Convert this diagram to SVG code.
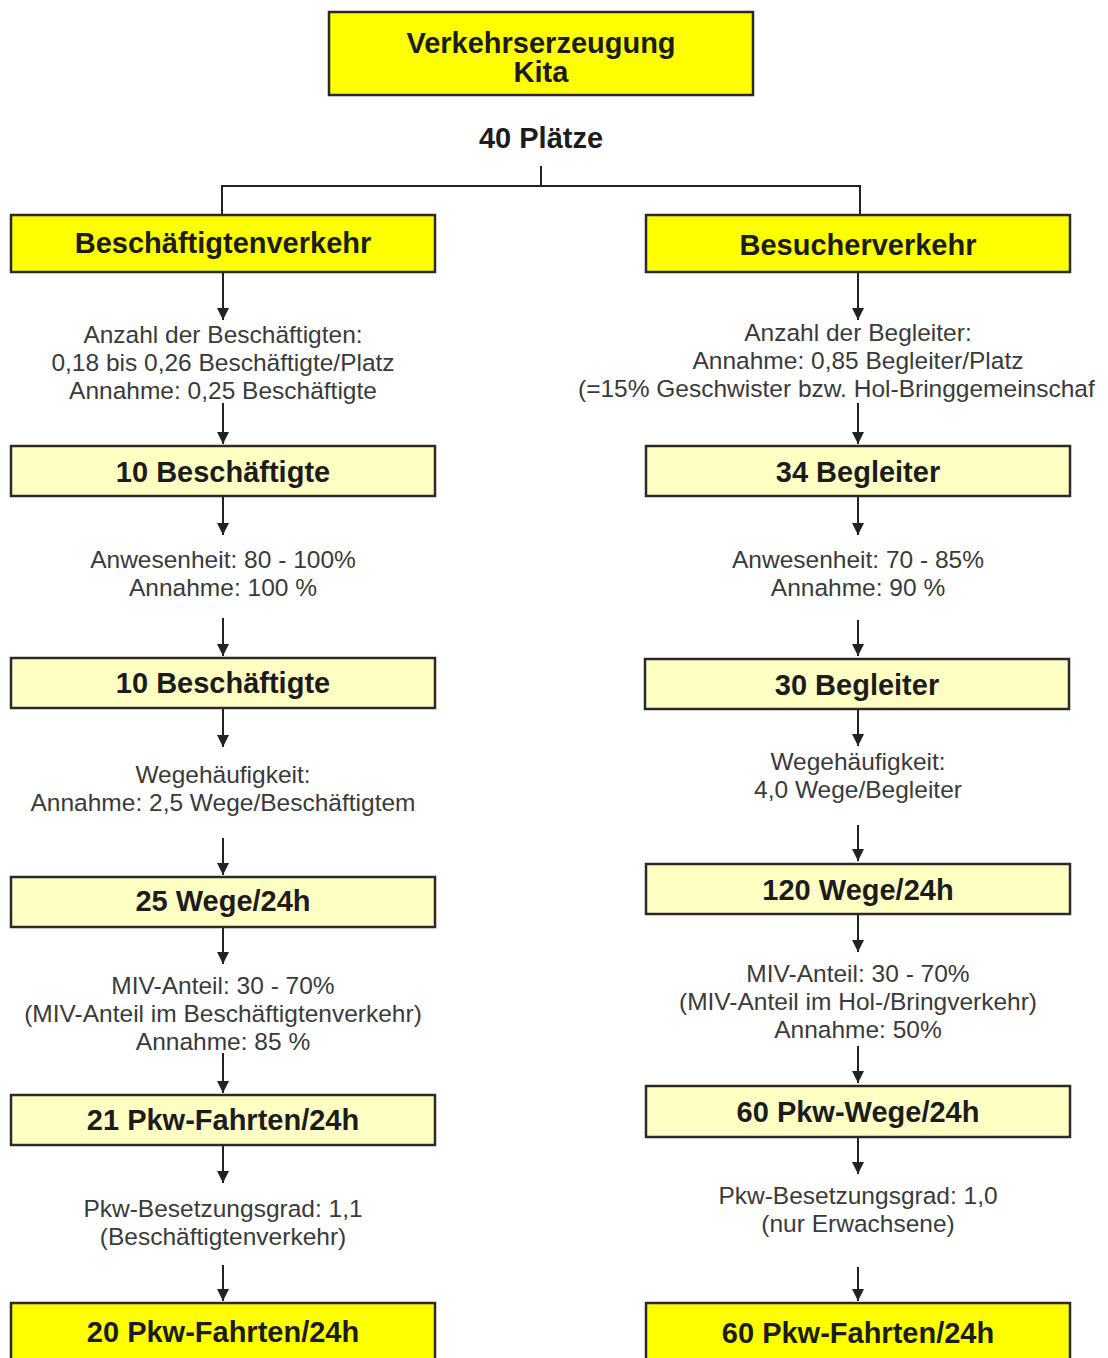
<svg xmlns="http://www.w3.org/2000/svg" width="1108" height="1358" viewBox="0 0 1108 1358">
<style>
.bg{fill:#ffffff}
.box{stroke:#2a2a2a;stroke-width:2.5}
.hi{fill:#ffff00}
.lo{fill:#ffffc4}
.bt{font-family:"Liberation Sans",Arial,sans-serif;font-weight:bold;font-size:29px;fill:#1c1c1c;text-anchor:middle}
.rt{font-family:"Liberation Sans",Arial,sans-serif;font-size:24.5px;fill:#3a3a3a;text-anchor:middle}
.ln{stroke:#222;stroke-width:2;fill:none}
.ar{stroke:#222;stroke-width:2;fill:none;marker-end:url(#ah)}
</style>
<defs>
<marker id="ah" markerUnits="userSpaceOnUse" markerWidth="12" markerHeight="12" refX="12" refY="6" orient="auto">
<path d="M0,0 L12,6 L0,12 z" fill="#222"/>
</marker>
</defs>
<rect class="bg" x="0" y="0" width="1108" height="1358"/>

<g id="connectors">
<path class="ln" d="M541,166 V186 M222,186 H860 M222,185 V215 M860,185 V215"/>
<path class="ar" d="M223,273 V320"/>
<path class="ar" d="M223,403 V444"/>
<path class="ar" d="M223,497 V535"/>
<path class="ar" d="M223,618 V656"/>
<path class="ar" d="M223,709 V747"/>
<path class="ar" d="M223,838 V875"/>
<path class="ar" d="M223,927 V964"/>
<path class="ar" d="M223,1053 V1093"/>
<path class="ar" d="M223,1146 V1183"/>
<path class="ar" d="M223,1265 V1301"/>
<path class="ar" d="M858,273 V320"/>
<path class="ar" d="M858,403 V444"/>
<path class="ar" d="M858,497 V535"/>
<path class="ar" d="M858,620 V656"/>
<path class="ar" d="M858,709 V746"/>
<path class="ar" d="M858,825 V861"/>
<path class="ar" d="M858,915 V952"/>
<path class="ar" d="M858,1046 V1083"/>
<path class="ar" d="M858,1138 V1174"/>
<path class="ar" d="M858,1267 V1301"/>
</g>

<g id="n-top">
<rect class="box hi" x="329" y="12" width="424" height="83"/>
<text class="bt" x="541" y="53">Verkehrserzeugung</text>
<text class="bt" x="541" y="82">Kita</text>
</g>
<g id="n-plaetze">
<text class="bt" x="541" y="148">40 Plätze</text>
</g>

<g id="n-l1">
<rect class="box hi" x="11" y="215" width="424" height="57"/>
<text class="bt" x="223" y="253">Beschäftigtenverkehr</text>
</g>
<g id="t-l1">
<text class="rt" x="223" y="343">Anzahl der Beschäftigten:</text>
<text class="rt" x="223" y="371">0,18 bis 0,26 Beschäftigte/Platz</text>
<text class="rt" x="223" y="399">Annahme: 0,25 Beschäftigte</text>
</g>
<g id="n-l2">
<rect class="box lo" x="11" y="446" width="424" height="50"/>
<text class="bt" x="223" y="482">10 Beschäftigte</text>
</g>
<g id="t-l2">
<text class="rt" x="223" y="568">Anwesenheit: 80 - 100%</text>
<text class="rt" x="223" y="596">Annahme: 100 %</text>
</g>
<g id="n-l3">
<rect class="box lo" x="11" y="658" width="424" height="50"/>
<text class="bt" x="223" y="693">10 Beschäftigte</text>
</g>
<g id="t-l3">
<text class="rt" x="223" y="783">Wegehäufigkeit:</text>
<text class="rt" x="223" y="811">Annahme: 2,5 Wege/Beschäftigtem</text>
</g>
<g id="n-l4">
<rect class="box lo" x="11" y="877" width="424" height="50"/>
<text class="bt" x="223" y="911">25 Wege/24h</text>
</g>
<g id="t-l4">
<text class="rt" x="223" y="994">MIV-Anteil: 30 - 70%</text>
<text class="rt" x="223" y="1022">(MIV-Anteil im Beschäftigtenverkehr)</text>
<text class="rt" x="223" y="1050">Annahme: 85 %</text>
</g>
<g id="n-l5">
<rect class="box lo" x="11" y="1095" width="424" height="50"/>
<text class="bt" x="223" y="1130">21 Pkw-Fahrten/24h</text>
</g>
<g id="t-l5">
<text class="rt" x="223" y="1217">Pkw-Besetzungsgrad: 1,1</text>
<text class="rt" x="223" y="1245">(Beschäftigtenverkehr)</text>
</g>
<g id="n-l6">
<rect class="box hi" x="11" y="1303" width="424" height="60"/>
<text class="bt" x="223" y="1342">20 Pkw-Fahrten/24h</text>
</g>

<g id="n-r1">
<rect class="box hi" x="646" y="215" width="424" height="57"/>
<text class="bt" x="858" y="255">Besucherverkehr</text>
</g>
<g id="t-r1">
<text class="rt" x="858" y="341">Anzahl der Begleiter:</text>
<text class="rt" x="858" y="369">Annahme: 0,85 Begleiter/Platz</text>
<text class="rt" x="578" y="397" style="text-anchor:start">(=15% Geschwister bzw. Hol-Bringgemeinschaf</text>
</g>
<g id="n-r2">
<rect class="box lo" x="646" y="446" width="424" height="50"/>
<text class="bt" x="858" y="482">34 Begleiter</text>
</g>
<g id="t-r2">
<text class="rt" x="858" y="568">Anwesenheit: 70 - 85%</text>
<text class="rt" x="858" y="596">Annahme: 90 %</text>
</g>
<g id="n-r3">
<rect class="box lo" x="645" y="659" width="424" height="50"/>
<text class="bt" x="857" y="695">30 Begleiter</text>
</g>
<g id="t-r3">
<text class="rt" x="858" y="770">Wegehäufigkeit:</text>
<text class="rt" x="858" y="798">4,0 Wege/Begleiter</text>
</g>
<g id="n-r4">
<rect class="box lo" x="646" y="864" width="424" height="50"/>
<text class="bt" x="858" y="900">120 Wege/24h</text>
</g>
<g id="t-r4">
<text class="rt" x="858" y="982">MIV-Anteil: 30 - 70%</text>
<text class="rt" x="858" y="1010">(MIV-Anteil im Hol-/Bringverkehr)</text>
<text class="rt" x="858" y="1038">Annahme: 50%</text>
</g>
<g id="n-r5">
<rect class="box lo" x="646" y="1086" width="424" height="51"/>
<text class="bt" x="858" y="1122">60 Pkw-Wege/24h</text>
</g>
<g id="t-r5">
<text class="rt" x="858" y="1204">Pkw-Besetzungsgrad: 1,0</text>
<text class="rt" x="858" y="1232">(nur Erwachsene)</text>
</g>
<g id="n-r6">
<rect class="box hi" x="646" y="1303" width="424" height="60"/>
<text class="bt" x="858" y="1343">60 Pkw-Fahrten/24h</text>
</g>
</svg>
